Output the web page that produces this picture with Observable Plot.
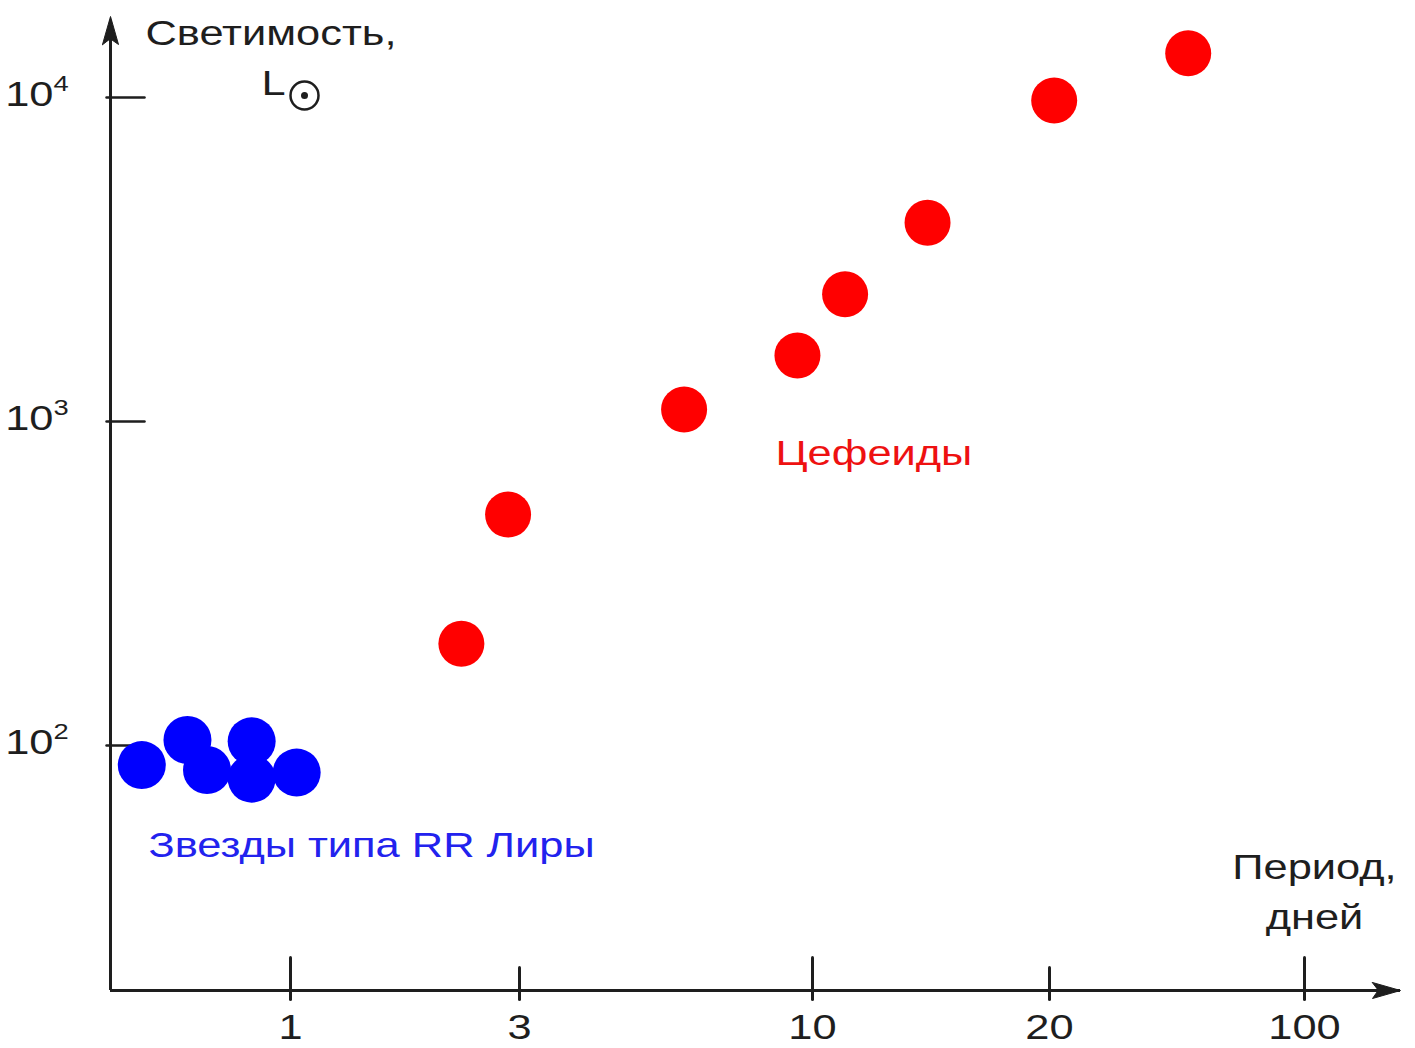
<!DOCTYPE html>
<html><head><meta charset="utf-8">
<script src="https://cdn.jsdelivr.net/npm/d3@7"></script>
<script src="https://cdn.jsdelivr.net/npm/@observablehq/plot@0.6"></script>
<style>body{margin:0;background:#fff}</style>
</head><body><div id="chart"></div>
<script>
// RR Lyrae stars (period, days; luminosity, L_sun)
const rrPeriod = [0.49, 0.61, 0.67, 0.83, 0.83, 1.03];
const rrLum = [87, 104, 84, 103, 79, 82.5];
// Cepheids
const cephPeriod = [2.27, 2.84, 5.9, 9.4, 11.0, 14.0, 20.6, 48];
const cephLum = [206, 516, 1090, 1600, 2470, 4110, 9790, 13700];
// axis ticks
const xMajorTicks = [1, 10, 100];
const xMinorTicks = [3, 20];
const xTickLabels = [1, 3, 10, 20, 100];
const yTicks = [100, 1000, 10000];

const rr = rrPeriod.map((p, i) => ({period: p, lum: rrLum[i]}));
const ceph = cephPeriod.map((p, i) => ({period: p, lum: cephLum[i]}));

const ink = "#1e1e1e";
const font = "'Liberation Sans', Arial, sans-serif";
const line = {draw(ctx, l) { ctx.moveTo(0, 0); ctx.lineTo(0, -l); }};
const head = {draw(ctx, l) { ctx.moveTo(-8, 0); ctx.lineTo(0, -l); ctx.lineTo(8, 0); ctx.lineTo(0, -l * 0.2); ctx.closePath(); }};

const xDomain = [0.4217, 1, 3, 10, 20, 100, 183];
const xRange = [110, 290, 519, 812, 1049, 1304, 1400];

const chart = Plot.plot({
  width: 1415,
  height: 1048,
  marginLeft: 110,
  marginRight: 15,
  marginTop: 20,
  marginBottom: 58,
  style: {fontFamily: font, background: "#fff", overflow: "visible"},
  x: {type: "log", domain: xDomain, range: xRange, axis: null},
  y: {type: "log", domain: [17.53, 17290], axis: null},
  marks: [
    // axes lines
    Plot.ruleX([xDomain[0]], {stroke: ink, strokeWidth: 3}),
    Plot.ruleY([17.53], {stroke: ink, strokeWidth: 3}),
    // arrowheads
    Plot.vector([0], {frameAnchor: "top-left", anchor: "end", length: 28, rotate: 0, shape: head, fill: ink, stroke: ink, strokeWidth: 1, dy: -4}),
    Plot.vector([0], {frameAnchor: "bottom-right", anchor: "end", length: 28, rotate: 90, shape: head, fill: ink, stroke: ink, strokeWidth: 1}),
    // x ticks
    Plot.vector(xMajorTicks, {x: d => d, frameAnchor: "bottom", anchor: "start", length: 42, rotate: 0, shape: line, stroke: ink, strokeWidth: 3, dy: 9}),
    Plot.vector(xMinorTicks, {x: d => d, frameAnchor: "bottom", anchor: "start", length: 32, rotate: 0, shape: line, stroke: ink, strokeWidth: 3, dy: 9}),
    Plot.text(xTickLabels, {x: d => d, frameAnchor: "bottom", lineAnchor: "middle", text: d => String(d), dy: 37, fontSize: 35, fill: ink}),
    // y ticks
    Plot.vector(yTicks, {y: d => d, frameAnchor: "left", anchor: "start", length: 38, rotate: 90, shape: line, stroke: ink, strokeWidth: 2.5, dx: -4}),
    Plot.text(yTicks, {y: d => d, frameAnchor: "left", lineAnchor: "middle", text: () => "10", textAnchor: "end", dx: -57, dy: -3, fontSize: 35, fill: ink}),
    Plot.text(yTicks, {y: d => d, frameAnchor: "left", lineAnchor: "middle", text: d => String(Math.round(Math.log10(d))), textAnchor: "start", dx: -57, dy: -14, fontSize: 22, fill: ink}),
    // axis titles
    Plot.text(["Светимость,"], {frameAnchor: "top-left", lineAnchor: "middle", textAnchor: "start", dx: 35, dy: 13, fontSize: 35, fill: ink}),
    Plot.text(["L"], {frameAnchor: "top-left", lineAnchor: "middle", textAnchor: "start", dx: 151, dy: 63, fontSize: 35, fill: ink}),
    Plot.dot([0], {frameAnchor: "top-left", dx: 194, dy: 75, r: 14, stroke: ink, strokeWidth: 2.5, fill: "none"}),
    Plot.dot([0], {frameAnchor: "top-left", dx: 194, dy: 75, r: 3.5, fill: ink, stroke: "none"}),
    Plot.text(["Период,\nдней"], {frameAnchor: "bottom-right", lineAnchor: "middle", textAnchor: "middle", dx: -86, dy: -103, fontSize: 35, lineHeight: 1.43, fill: ink}),
    // data
    Plot.dot(ceph, {x: "period", y: "lum", r: 23, fill: "#ff0000", stroke: "none"}),
    Plot.dot(rr, {x: "period", y: "lum", r: 24, fill: "#0000ff", stroke: "none"}),
    // labels
    Plot.text(["Цефеиды"], {frameAnchor: "top-left", lineAnchor: "middle", textAnchor: "start", dx: 665, dy: 433, fontSize: 35, fill: "#ee1111"}),
    Plot.text(["Звезды типа RR Лиры"], {frameAnchor: "top-left", lineAnchor: "middle", textAnchor: "start", dx: 38, dy: 825, fontSize: 35, fill: "#2222ee"})
  ]
});
document.getElementById("chart").appendChild(chart);
// the reference lettering is horizontally wider than Arial: stretch glyphs
chart.querySelectorAll("text").forEach(t => {
  const spans = t.querySelectorAll("tspan");
  const targets = spans.length ? Array.from(spans) : [t];
  targets.forEach(el => {
    const w = el.getComputedTextLength();
    el.setAttribute("textLength", (w * 1.24).toFixed(1));
    el.setAttribute("lengthAdjust", "spacingAndGlyphs");
  });
});
</script>
</body></html>
